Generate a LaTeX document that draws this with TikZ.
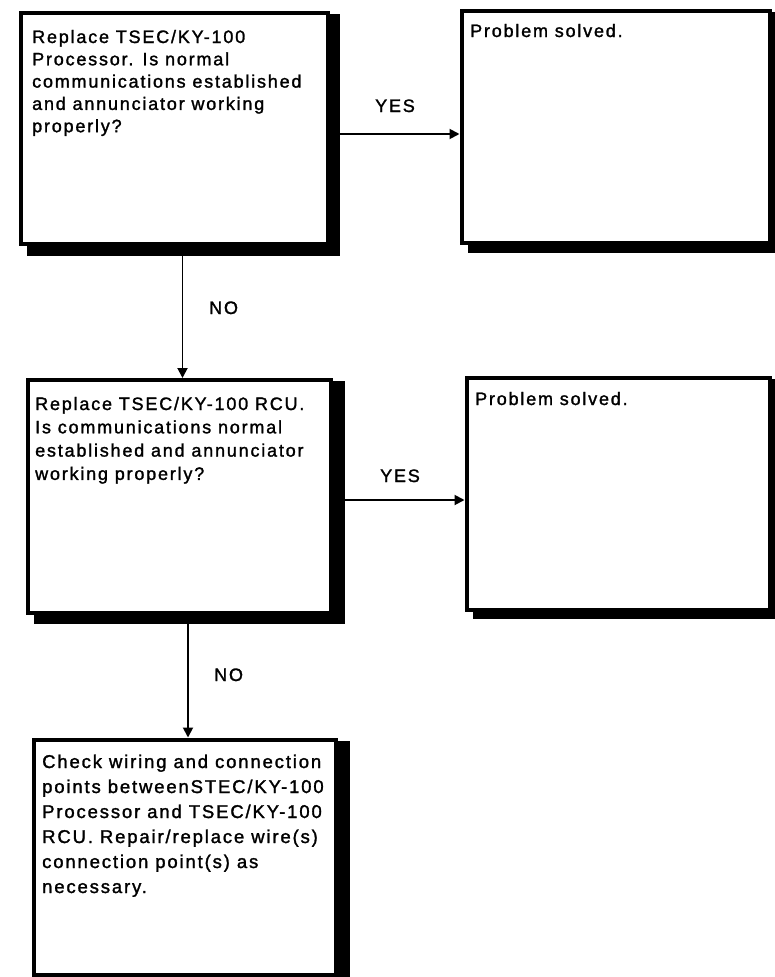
\documentclass[tikz,border=0pt]{standalone}
\usepackage{fontspec}
\setmainfont{Liberation Sans}[LetterSpace=10,FakeBold=1.5]
\usetikzlibrary{arrows.meta,backgrounds}
\begin{document}
\begin{tikzpicture}[x=1pt,y=-1pt,
  box/.style={draw, line width=4pt, fill=white, rectangle, inner sep=0pt},
  conn/.style={line width=1.9pt, -{Triangle[length=10pt,width=10pt]}},
  txt/.style={anchor=base west, inner sep=0pt},
  lbl/.style={anchor=base west, inner sep=0pt, font=\fontsize{18}{22}\selectfont}]
\useasboundingbox (0,0) rectangle (774,977);
% boxes
\node[box, minimum width=307pt, minimum height=231pt] (b1) at (174.5,128.5) {};
\node[box, minimum width=308pt, minimum height=232.5pt] (b2) at (615.5,126.75) {};
\node[box, minimum width=302.5pt, minimum height=232.5pt] (b3) at (179.25,496.25) {};
\node[box, minimum width=303.5pt, minimum height=232pt] (b4) at (618.25,493.5) {};
\node[box, minimum width=302pt, minimum height=235pt] (b5) at (184.5,857) {};
% shadows
\begin{scope}[on background layer]
\fill ([xshift=8pt,yshift=-3pt]b1.north west) rectangle ([xshift=10pt,yshift=-10pt]b1.south east);
\fill ([xshift=8pt,yshift=-3pt]b2.north west) rectangle ([xshift=10pt,yshift=-8pt]b2.south east);
\fill ([xshift=8pt,yshift=-3pt]b3.north west) rectangle ([xshift=12.5pt,yshift=-9pt]b3.south east);
\fill ([xshift=8pt,yshift=-3pt]b4.north west) rectangle ([xshift=10pt,yshift=-7pt]b4.south east);
\fill ([xshift=8pt,yshift=-3pt]b5.north west) rectangle ([xshift=12.5pt,yshift=-10pt]b5.south east);
\end{scope}
% texts
\node[txt] (t1) at (32,43) {\fontsize{18}{22.3}\selectfont\begin{tabular}[t]{@{}l@{}}Replace TSEC/KY-100\\ Processor. Is normal\\ communications established\\ and annunciator working\\ properly?\end{tabular}};
\node[txt] (t2) at (470,37) {\fontsize{18}{22.3}\selectfont Problem solved.};
\node[txt] (t3) at (35,410) {\fontsize{18}{23.3}\selectfont\begin{tabular}[t]{@{}l@{}}Replace TSEC/KY-100 RCU.\\ Is communications normal\\ established and annunciator\\ working properly?\end{tabular}};
\node[txt] (t4) at (475,405) {\fontsize{18}{22.3}\selectfont Problem solved.};
\node[txt] (t5) at (42,768) {\fontsize{18.5}{25}\selectfont\begin{tabular}[t]{@{}l@{}}Check wiring and connection\\ points betweenSTEC/KY-100\\ Processor and TSEC/KY-100\\ RCU. Repair/replace wire(s)\\ connection point(s) as\\ necessary.\end{tabular}};
% connectors
\draw[conn] ([yshift=-5.5pt]b1.east) -- ([yshift=-5.5pt]b1.east -| b2.west);
\draw[conn] ([yshift=-3.75pt]b3.east) -- ([yshift=-3.75pt]b3.east -| b4.west);
\draw[conn] ([xshift=8pt]b1.south) -- ([xshift=8pt]b1.south |- b3.north);
\draw[conn] ([xshift=8.75pt]b3.south) -- ([xshift=8.75pt]b3.south |- b5.north);
% labels
\node[lbl] (yes1) at (375,112) {YES};
\node[lbl] (yes2) at (380,482) {YES};
\node[lbl] (no1) at (209,314) {NO};
\node[lbl] (no2) at (214,681) {NO};
\end{tikzpicture}
\end{document}
